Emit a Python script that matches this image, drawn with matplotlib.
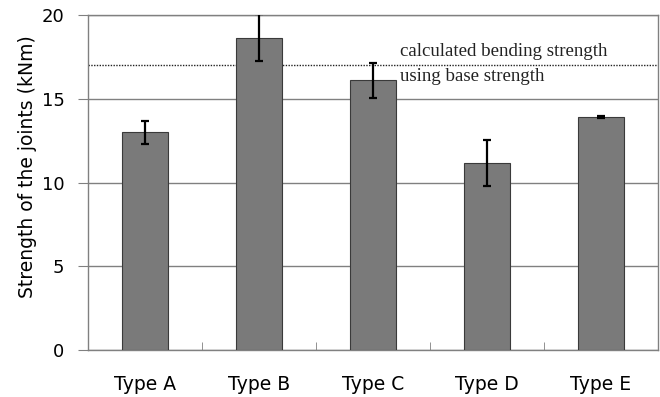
#!/usr/bin/env python3
import numpy as np
import matplotlib
matplotlib.use("Agg")
import matplotlib.pyplot as plt

# --- data ---
tipos = ["Type A", "Type B", "Type C", "Type D", "Type E"]
resistencia = [13.0, 18.65, 16.1, 11.15, 13.93]
erro = [0.68, 1.4, 1.05, 1.37, 0.05]
resistencia_calculada = 17.0

plt.rcParams['font.family'] = ['DejaVu Sans']

fig = plt.figure(figsize=(6.6, 3.97), dpi=100)
ax = fig.add_axes([88 / 660, 1 - 350 / 397, 570 / 660, 335 / 397])

x = np.arange(len(tipos))
ax.bar(x, resistencia, width=0.4, color='#7a7a7a', edgecolor='#3a3a3a',
       linewidth=0.8, zorder=3)
ax.errorbar(x, resistencia, yerr=erro, fmt='none', ecolor='black',
            elinewidth=1.6, capsize=3, capthick=1.6, zorder=4)

# linha pontilhada do valor calculado
ax.axhline(resistencia_calculada, color='#222222', linestyle=(0, (1, 1)),
           linewidth=1.0, zorder=2)
ax.text(2.24, resistencia_calculada + 0.3, "calculated bending strength",
        family='Liberation Serif', fontsize=13.6, va='bottom', ha='left',
        color='#222222')
ax.text(2.24, resistencia_calculada - 0.15, "using base strength",
        family='Liberation Serif', fontsize=13.6, va='top', ha='left',
        color='#222222')

ax.set_xlim(-0.5, len(tipos) - 0.5)
ax.set_ylim(0, 20)
ax.set_yticks([0, 5, 10, 15, 20])
ax.yaxis.grid(True, color='#808080', linewidth=1.0, zorder=1)
ax.set_axisbelow(True)

ax.set_xticks(x)
ax.set_xticklabels(tipos, fontsize=13.5)
ax.tick_params(axis='x', length=0, pad=18)
ax.set_xticks(np.arange(0.5, len(tipos) - 1, 1.0), minor=True)
ax.tick_params(axis='x', which='minor', direction='in', length=6,
               color='#808080')
ax.tick_params(axis='y', labelsize=13, length=7, color='#808080', pad=10)

for s in ax.spines.values():
    s.set_color('#808080')
    s.set_linewidth(1.0)

ax.set_ylabel("Strength of the joints (kNm)", fontsize=13.5)
ax.yaxis.set_label_coords(-0.09, 0.546)

fig.savefig("out.png", dpi=100)
plt.close(fig)
